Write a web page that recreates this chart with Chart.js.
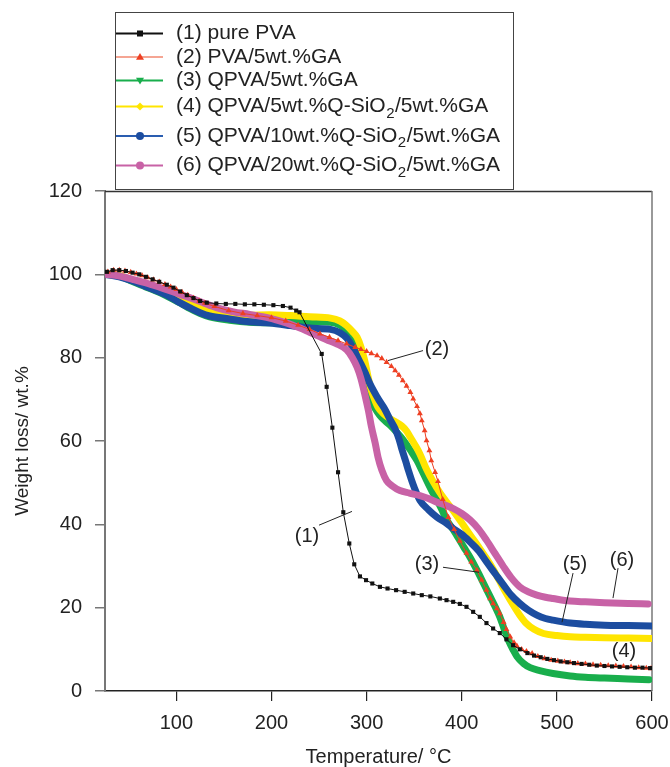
<!DOCTYPE html>
<html><head><meta charset="utf-8">
<script src="https://cdn.jsdelivr.net/npm/chart.js@4.4.0/dist/chart.umd.min.js"></script>
<style>html,body{margin:0;padding:0;background:#fff;}canvas{display:block;}</style>
</head><body>
<canvas id="c" width="670" height="767"></canvas>
<script>
// ---------- data ----------
const xTicks = [100, 200, 300, 400, 500, 600];
const yTicks = [0, 20, 40, 60, 80, 100, 120];
const seriesLabels = [
  '(1) pure PVA',
  '(2) PVA/5wt.%GA',
  '(3) QPVA/5wt.%GA',
  '(4) QPVA/5wt.%Q-SiO\u2082/5wt.%GA',
  '(5) QPVA/10wt.%Q-SiO\u2082/5wt.%GA',
  '(6) QPVA/20wt.%Q-SiO\u2082/5wt.%GA'
];
const xTitle = 'Temperature/ \u00B0C';
const yTitle = 'Weight loss/ wt.%';

const pvaT = [27,33,40,47,54,61,68,75,82,90,97,104,111,118,125,132,142,152,162,172,182,192,202,212,220,226,229.5,252.8,258,264,270,275.5,281.8,287,293,299.4,306,314,322,331,340,349,358,367,377,384,391,398,405,412,419,426,433,440,447,454,461,469,476,483,490,497,504,511,518,526,534,542,550,558,566,574,582,590,598];
const pvaW = [100.6,101,101,100.8,100.4,100,99.4,98.8,98.2,97.5,96.8,95.9,95,94.3,93.6,93.2,93,92.9,92.9,92.8,92.8,92.7,92.6,92.4,92,91.3,90.9,80.9,73,63.2,52.5,42.9,35.4,30.4,27.5,26.6,25.8,25,24.6,24.2,23.8,23.4,23,22.7,22.2,21.8,21.4,20.9,20.2,19,17.8,16.3,15,13.9,12.4,11,10,9.1,8.5,8.1,7.7,7.4,7.1,6.9,6.7,6.5,6.3,6.1,6,5.9,5.8,5.7,5.6,5.6,5.5];

const gaT = [28,34,40,46,52,58,64,70,76,82,88,94,100,106,112,118,124,130,140,155,170,185,200,215,228,240,251,261,270,279,288,294,300,305,311,316,321,326,330,334,338,342,346,349,353,356,358,361,363,366,368,372,375,380,386,392,398,405,410,416,421,426,430,433,437,440,444,447,451,455,458,463,468,474,480,487,494,501,508,514,522,530,538,546,554,562,570,578,586,594,599];
const gaW = [100.6,101,101,100.8,100.5,100.1,99.7,99.2,98.7,98.2,97.6,97,96.4,95.7,95,94.3,93.6,93.1,92.3,91.3,90.6,90.1,89.6,88.8,87.8,86.8,85.7,84.9,84.1,83.3,82.5,82,81.5,81,80.5,79.8,78.9,77.9,76.9,75.8,74.5,73.2,71.7,70.1,68.3,66.6,64.9,62.5,60.1,57.7,55.3,52.5,50.3,46,41.7,38.8,36,33.1,31,29,26.6,24.2,22.2,21,19.8,18.6,16.5,14.8,13,11.6,10.8,10,9.5,9,8.3,7.8,7.4,7.2,7,6.8,6.6,6.5,6.3,6.2,6.1,6,5.9,5.8,5.6,5.5,5.4];

const qT = [25,40,54,70,90,105,114,125,135,156,177,198,220,240,262,272,279,285,290,294,298,302,305,309,314,319,325,332,339,346,353,358,363,370,377,384,393,402,409,416,423,430,435,440,445,449,454,458,465,472,482,496,514,530,550,575,597];
const qW = [100,99.6,98.3,96.8,94.8,93,91.8,90.6,89.8,89,88.5,88.4,88.5,88.6,88.5,87.8,86.5,84.5,82.5,79.5,75.3,72,69.7,67.8,66.1,64.9,63.7,62,60.1,57.8,55.3,53,50.6,47.4,44.5,41.2,38,34.6,32,29,25.8,22.6,20.3,17.8,14.6,12.2,9.9,8.3,6.6,5.6,4.9,4.2,3.6,3.3,3.1,2.9,2.7];

const q5T = [25,40,54,70,90,105,114,125,135,156,177,198,220,240,262,272,279,285,290,294,298,301,304,308,312,318,325,331,337,342,346,351,356,363,370,377,384,391,400,409,418,426,433,440,447,454,461,468,476,486,500,514,530,550,575,600];
const q5W = [100,99.7,98.6,97.4,95.6,94,93,91.8,91,90.3,90.2,90.3,90.1,89.8,89.5,88.8,87.7,86.3,84.9,82.6,79.3,76,72.9,70.2,68.1,66.5,65.3,64.5,63.6,62.4,60.9,59,56.9,53.2,50.2,47.6,45.4,43.3,40.4,37.4,34.5,31.8,29.2,26.3,23.4,20.7,18.2,16.2,14.8,13.8,13.3,13,12.9,12.8,12.7,12.6];

const q10T = [25,40,54,70,90,102,114,125,135,156,177,198,220,240,262,272,279,285,290,294,298,303,307,313,319,325,330,334,337,341,344,347,350,356,365,374,383,391,400,409,418,426,435,444,452,461,470,479,488,496,514,530,550,575,600];
const q10W = [100,99.4,98.4,96.9,95,93.4,92,90.8,90,89.3,88.6,88.3,87.7,87.1,86.8,86,84.7,82.6,80.3,78.5,76.6,74,72.2,69.8,67.7,65,62.9,60.5,58.1,55.2,52.9,50.8,48.9,45.8,43.5,41.7,40.4,39,37.6,35.7,33.6,31,28.2,25.4,23,21,19.4,18.2,17.4,17,16.3,16,15.8,15.7,15.6];

const q20T = [25,40,54,70,90,104,118,130,142,160,177,198,212,220,230,240,250,258,268,279,285,290,294,298,302,305,309,312,316,321,327,335,345,356,365,374,383,391,400,409,418,426,435,444,452,461,470,479,488,496,514,530,550,575,596];
const q20W = [100,99.6,98.8,97.8,96.3,95.2,94.1,93,92,91,90.4,89.5,88.6,88,87.1,86.1,85.1,84.3,83.4,81.9,80,77.7,75,71.3,67.2,63.5,59.5,56.1,53,50.5,49.2,48.1,47.5,46.9,46.2,45.3,44.6,43.8,42.6,41,38.8,36.2,33,29.8,27.2,25,23.8,23,22.5,22.2,21.6,21.4,21.2,21,20.9];

// annotation labels (data coordinates) and leader lines
const annoText = ['(1)', '(2)', '(3)', '(4)', '(5)', '(6)'];
const annoT = [237.3, 374, 363.5, 570.6, 519, 568.5];
const annoW = [37.1, 81.9, 30.4, 9.6, 30.4, 31.4];
const leaderFrom = [[250, 39.8], [322.5, 79.3], [380.3, 29.7], null, [517, 28.3], [564.3, 29.5]];
const leaderTo   = [[284.6, 43.1], [359.3, 81.7], [418.1, 28.5], null, [505.4, 16.5], [559, 22.3]];

// ---------- styles ----------
const FONT = "'Liberation Sans', Arial, Helvetica, sans-serif";
const TXT = '#222';
const colors = ['#111111', '#ee3f22', '#19ae4c', '#ffe500', '#1c4da0', '#c862a6'];
const legendLineColors = ['#111111', '#f5a593', '#19ae4c', '#ffe500', '#2a5db0', '#c862a6'];
const legendMarkers = ['rect', 'triangle', 'triangleDown', 'rectRot', 'circle', 'circle'];

const pts = (T, W) => T.map((t, i) => ({x: t, y: W[i]}));

const thick = (label, T, W, color, order) => ({
  label, data: pts(T, W), borderColor: color, backgroundColor: color,
  borderWidth: 7, pointRadius: 0, cubicInterpolationMode: 'monotone',
  borderCapStyle: 'round', borderJoinStyle: 'round', order
});

const datasets = [
  {label: seriesLabels[0], data: pts(pvaT, pvaW), borderColor: colors[0], borderWidth: 1,
   pointStyle: 'rect', pointRadius: 2.9, pointBackgroundColor: colors[0], pointBorderWidth: 0, order: 0},
  {label: seriesLabels[1], data: pts(gaT, gaW), borderColor: colors[1], borderWidth: 1,
   pointStyle: 'triangle', pointRadius: 3.4, pointBackgroundColor: colors[1], pointBorderWidth: 0, order: 1},
  thick(seriesLabels[2], qT, qW, colors[2], 5),
  thick(seriesLabels[3], q5T, q5W, colors[3], 4),
  thick(seriesLabels[4], q10T, q10W, colors[4], 3),
  thick(seriesLabels[5], q20T, q20W, colors[5], 2)
];

// ---------- plugins ----------
const framePlugin = {
  id: 'frame',
  beforeDatasetsDraw(chart) {
    const {ctx, chartArea: a} = chart;
    ctx.save();
    ctx.strokeStyle = '#333'; ctx.lineWidth = 1.3;
    ctx.beginPath(); ctx.moveTo(a.left, a.top + 0.5); ctx.lineTo(a.right, a.top + 0.5); ctx.stroke();
    ctx.strokeStyle = '#777'; ctx.lineWidth = 1.5;
    ctx.beginPath(); ctx.moveTo(a.right, a.top); ctx.lineTo(a.right, a.bottom); ctx.stroke();
    ctx.restore();
  }
};

const annoPlugin = {
  id: 'anno',
  afterDatasetsDraw(chart) {
    const {ctx, scales: {x, y}} = chart;
    ctx.save();
    ctx.fillStyle = TXT; ctx.strokeStyle = TXT; ctx.lineWidth = 1;
    ctx.font = '20px ' + FONT; ctx.textAlign = 'center'; ctx.textBaseline = 'middle';
    annoText.forEach((t, i) => {
      ctx.fillText(t, x.getPixelForValue(annoT[i]), y.getPixelForValue(annoW[i]));
      if (leaderFrom[i]) {
        ctx.beginPath();
        ctx.moveTo(x.getPixelForValue(leaderFrom[i][0]), y.getPixelForValue(leaderFrom[i][1]));
        ctx.lineTo(x.getPixelForValue(leaderTo[i][0]), y.getPixelForValue(leaderTo[i][1]));
        ctx.stroke();
      }
    });
    ctx.restore();
  }
};

function drawMarker(ctx, style, cx, cy, color) {
  ctx.fillStyle = color;
  ctx.beginPath();
  const r = 4;
  if (style === 'rect') { ctx.rect(cx - 3, cy - 3, 6, 6); }
  else if (style === 'triangle') { ctx.moveTo(cx, cy - r); ctx.lineTo(cx + r, cy + r * 0.7); ctx.lineTo(cx - r, cy + r * 0.7); ctx.closePath(); }
  else if (style === 'triangleDown') { ctx.moveTo(cx, cy + r); ctx.lineTo(cx + r, cy - r * 0.7); ctx.lineTo(cx - r, cy - r * 0.7); ctx.closePath(); }
  else if (style === 'rectRot') { ctx.moveTo(cx, cy - r); ctx.lineTo(cx + r, cy); ctx.lineTo(cx, cy + r); ctx.lineTo(cx - r, cy); ctx.closePath(); }
  else { ctx.arc(cx, cy, r, 0, Math.PI * 2); }
  ctx.fill();
}

function drawRich(ctx, text, x, y, size) {
  const parts = text.split('\u2082');
  ctx.textAlign = 'left'; ctx.textBaseline = 'middle';
  parts.forEach((p, i) => {
    ctx.font = size + 'px ' + FONT;
    ctx.fillText(p, x, y);
    x += ctx.measureText(p).width;
    if (i < parts.length - 1) {
      ctx.font = Math.round(size * 0.7) + 'px ' + FONT;
      ctx.fillText('2', x + 0.5, y + 7);
      x += ctx.measureText('2').width + 1;
    }
  });
}

const legendPlugin = {
  id: 'customLegend',
  afterDraw(chart) {
    const {ctx} = chart;
    const box = {l: 115.5, t: 12.5, r: 513.5, b: 189.5};
    const rows = [33.5, 57, 80.5, 106.5, 136, 165.5];
    ctx.save();
    ctx.fillStyle = '#fff';
    ctx.fillRect(box.l, box.t, box.r - box.l, box.b - box.t);
    ctx.strokeStyle = '#444'; ctx.lineWidth = 1;
    ctx.strokeRect(box.l, box.t, box.r - box.l, box.b - box.t);
    chart.data.datasets.forEach((ds, i) => {
      const cy = rows[i];
      ctx.strokeStyle = legendLineColors[i]; ctx.lineWidth = 2;
      ctx.beginPath(); ctx.moveTo(116, cy); ctx.lineTo(163, cy); ctx.stroke();
      drawMarker(ctx, legendMarkers[i], 140, cy, colors[i]);
      ctx.fillStyle = TXT;
      drawRich(ctx, ds.label, 176, cy, 21);
    });
    ctx.restore();
  }
};

// ---------- chart ----------
new Chart(document.getElementById('c').getContext('2d'), {
  type: 'line',
  data: {datasets},
  options: {
    responsive: false, animation: false, devicePixelRatio: 1,
    layout: {padding: {top: 191, right: 18, left: 0, bottom: 0}},
    plugins: {legend: {display: false}, tooltip: {enabled: false}},
    elements: {line: {tension: 0}},
    scales: {
      x: {
        type: 'linear', min: 25, max: 600,
        afterBuildTicks: s => { s.ticks = xTicks.map(v => ({value: v})); },
        afterFit: s => { s.height = 76; s.paddingRight = 0; s.paddingLeft = 0; },
        grid: {drawOnChartArea: false, drawTicks: true, tickLength: 10, color: '#222', lineWidth: 1.2},
        border: {display: true, color: '#222', width: 1.5},
        ticks: {font: {family: FONT, size: 20}, color: TXT, padding: 10, maxRotation: 0, autoSkip: false},
        title: {display: true, text: xTitle, font: {family: FONT, size: 20}, color: TXT, padding: {top: 0, bottom: -2}}
      },
      y: {
        type: 'linear', min: 0, max: 120,
        afterBuildTicks: s => { s.ticks = yTicks.map(v => ({value: v})); },
        afterFit: s => { s.width = 105; s.paddingTop = 0; s.paddingBottom = 0; },
        grid: {drawOnChartArea: false, drawTicks: true, tickLength: 10, color: '#777', lineWidth: 1.5},
        border: {display: true, color: '#777', width: 2},
        ticks: {font: {family: FONT, size: 20}, color: TXT, padding: 13, autoSkip: false},
        title: {display: true, text: yTitle, font: {family: FONT, size: 19}, color: TXT, padding: {top: 11, bottom: 0}}
      }
    }
  },
  plugins: [framePlugin, annoPlugin, legendPlugin]
});
</script>
</body></html>
